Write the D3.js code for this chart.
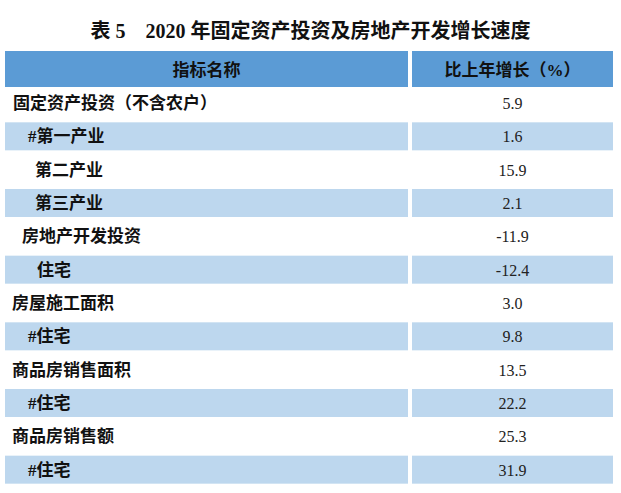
<!DOCTYPE html>
<html>
<head>
<meta charset="utf-8">
<script src="https://cdn.jsdelivr.net/npm/d3@7"></script>
<style>
  body { margin: 0; background: #fff; }
</style>
</head>
<body>
<div id="chart"></div>
<script>
// table data
const title = "表 5　2020 年固定资产投资及房地产开发增长速度";
const headers = ["指标名称", "比上年增长（%）"];
const labels = ["固定资产投资（不含农户）", "#第一产业", "第二产业", "第三产业", "房地产开发投资", "住宅",
  "房屋施工面积", "#住宅", "商品房销售面积", "#住宅", "商品房销售额", "#住宅"];
const values = ["5.9", "1.6", "15.9", "2.1", "-11.9", "-12.4", "3.0", "9.8", "13.5", "22.2", "25.3", "31.9"];

// layout
const width = 621, height = 493;
const indent = [13, 28, 35, 35, 22, 37, 12, 28, 12, 28, 12, 28];
const col1 = [5, 408], col2 = [412, 613];
const font = "'Liberation Serif', 'Noto Sans CJK SC', serif";

const svg = d3.select("#chart").append("svg")
  .attr("width", width)
  .attr("height", height);

// title
svg.append("text")
  .attr("x", width / 2)
  .attr("y", 31)
  .attr("text-anchor", "middle")
  .attr("dominant-baseline", "central")
  .style("font-family", font)
  .style("font-weight", "bold")
  .style("font-size", "20px")
  .attr("fill", "#111")
  .text(title);

// header
[col1, col2].forEach((c, i) => {
  svg.append("rect")
    .attr("x", c[0]).attr("y", 51)
    .attr("width", c[1] - c[0]).attr("height", 36)
    .attr("fill", "#5B9BD5");
  svg.append("text")
    .attr("x", (c[0] + c[1]) / 2)
    .attr("y", 70)
    .attr("text-anchor", "middle")
    .attr("dominant-baseline", "central")
    .style("font-family", font)
    .style("font-weight", "bold")
    .style("font-size", "17px")
    .attr("fill", "#111")
    .text(headers[i]);
});

// rows
const y = d3.scaleBand()
  .domain(d3.range(labels.length))
  .range([88, 488]);

const row = svg.selectAll("g.row")
  .data(labels.map((l, i) => ({ label: l, value: values[i], i })))
  .enter()
  .append("g")
  .attr("class", "row")
  .attr("transform", d => `translate(0,${y(d.i)})`);

[col1, col2].forEach(c => {
  row.filter(d => d.i % 2 === 1)
    .append("rect")
    .attr("x", c[0]).attr("y", 1)
    .attr("width", c[1] - c[0]).attr("height", 28)
    .attr("fill", "#BDD7EE");
});

row.append("text")
  .attr("x", d => indent[d.i])
  .attr("y", 15.5)
  .attr("dominant-baseline", "central")
  .style("font-family", font)
  .style("font-weight", "bold")
  .style("font-size", "17px")
  .attr("fill", "#111")
  .text(d => d.label);

row.append("text")
  .attr("x", (col2[0] + col2[1]) / 2)
  .attr("y", 15.5)
  .attr("text-anchor", "middle")
  .attr("dominant-baseline", "central")
  .style("font-family", font)
  .style("font-size", "16px")
  .attr("fill", "#222")
  .text(d => d.value);
</script>
</body>
</html>
